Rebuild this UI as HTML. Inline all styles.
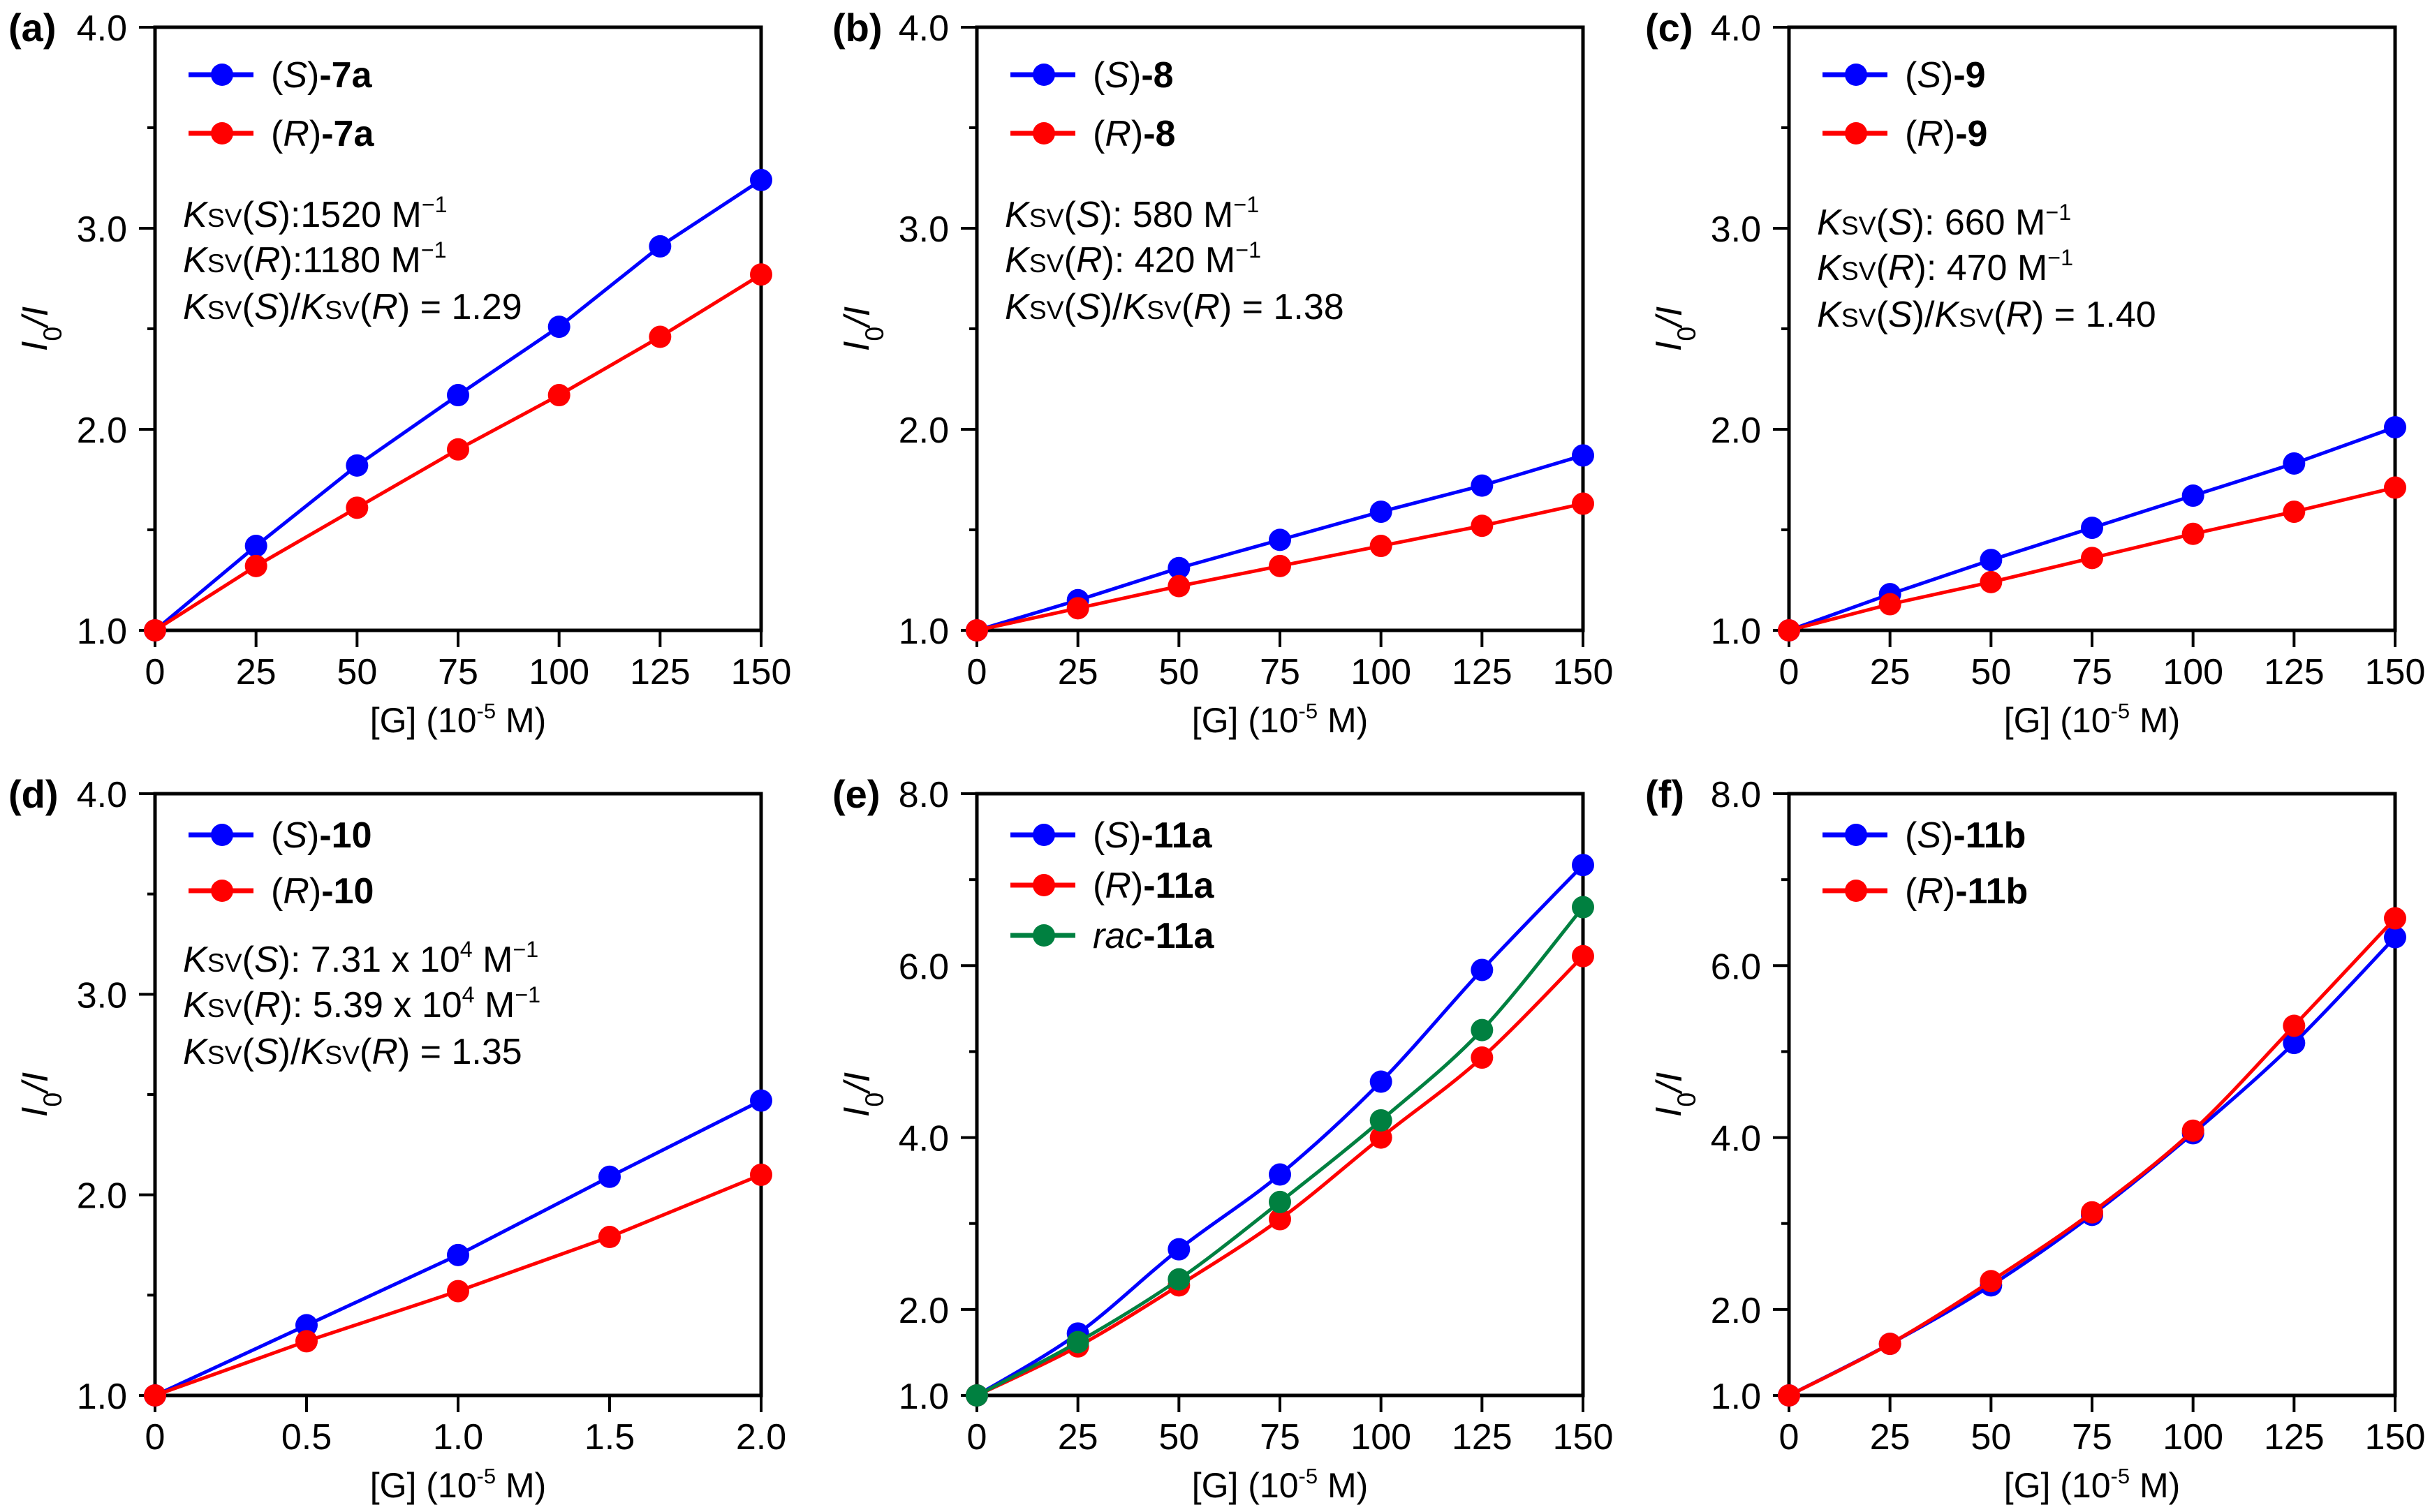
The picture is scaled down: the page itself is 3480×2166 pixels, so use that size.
<!DOCTYPE html>
<html><head><meta charset="utf-8"><style>
html,body{margin:0;padding:0;background:#fff;}
svg{display:block;font-family:"Liberation Sans",Arial,sans-serif;}
</style></head><body>
<svg id="fig" xmlns="http://www.w3.org/2000/svg" width="3480" height="2166" viewBox="0 0 3480 2166"></svg>
<script>
const gX = [0,25,50,75,100,125,150];
const dX = [0,0.5,1.0,1.5,2.0];
const xTicksG = ["0","25","50","75","100","125","150"];
const xTicksD = ["0","0.5","1.0","1.5","2.0"];
const yTicks4 = [1,2,3,4];
const yMinor4 = [1.5,2.5,3.5];
const yTicks8 = [1,2,4,6,8];
const yMinor8 = [3,5,7];
const aS = [1.0,1.42,1.82,2.17,2.51,2.91,3.24];
const aR = [1.0,1.32,1.61,1.90,2.17,2.46,2.77];
const bS = [1.0,1.15,1.31,1.45,1.59,1.72,1.87];
const bR = [1.0,1.11,1.22,1.32,1.42,1.52,1.63];
const cS = [1.0,1.18,1.35,1.51,1.67,1.83,2.01];
const cR = [1.0,1.13,1.24,1.36,1.48,1.59,1.71];
const dS = [1.0,1.35,1.70,2.09,2.47];
const dR = [1.0,1.27,1.52,1.79,2.10];
const eS = [1.0,1.72,2.70,3.57,4.65,5.95,7.17];
const eR = [1.0,1.57,2.28,3.05,4.00,4.93,6.11];
const eRac = [1.0,1.62,2.35,3.25,4.20,5.25,6.68];
const fS = [1.0,1.60,2.28,3.10,4.05,5.10,6.33];
const fR = [1.0,1.60,2.33,3.13,4.08,5.30,6.55];

const NS="http://www.w3.org/2000/svg";
const svg=document.getElementById('fig');
function el(tag,attrs,parent){const e=document.createElementNS(NS,tag);for(const k in attrs)e.setAttribute(k,attrs[k]);(parent||svg).appendChild(e);return e;}
function rich(parent,x,y,parts,size,anchor){
  const t=el('text',{x:x,y:y,'font-size':size,fill:'#000'},parent);
  if(anchor)t.setAttribute('text-anchor',anchor);
  parts.forEach(p=>{const s=el('tspan',{},t);s.textContent=p[0];
    const f=(p[1]||'').split(' ');
    if(f.includes('i'))s.setAttribute('font-style','italic');
    if(f.includes('b'))s.setAttribute('font-weight','bold');
    if(f.includes('sub'))s.setAttribute('font-size',size*0.72);
    if(f.includes('sup')){s.setAttribute('font-size',size*0.62);s.setAttribute('dy',-size*0.4);}
    if(f.includes('down'))s.setAttribute('dy',size*0.4);
  });
  return t;
}
function smoothPath(pts){
  let d='M'+pts[0][0]+','+pts[0][1];
  for(let i=0;i<pts.length-1;i++){
    const p0=pts[i-1]||pts[i],p1=pts[i],p2=pts[i+1],p3=pts[i+2]||pts[i+1];
    const c1=[p1[0]+(p2[0]-p0[0])/6,p1[1]+(p2[1]-p0[1])/6];
    const c2=[p2[0]-(p3[0]-p1[0])/6,p2[1]-(p3[1]-p1[1])/6];
    d+=' C'+c1[0]+','+c1[1]+' '+c2[0]+','+c2[1]+' '+p2[0]+','+p2[1];
  }
  return d;
}
const COL={S:'#0000ff',R:'#ff0000',rac:'#008040'};
function panel(cfg){
  const L=cfg.left,T=cfg.top,W=868,H=cfg.top<500?864:862;
  const g=el('g',{});
  
  
  const sx=v=>L+(v-cfg.xmin)/(cfg.xmax-cfg.xmin)*W;
  const sy=v=>T+H-(v-cfg.ymin)/(cfg.ymax-cfg.ymin)*H;
  const fr=el('rect',{x:L,y:T,width:W,height:H,fill:'none',stroke:'#000','stroke-width':5},g);
  
  
  cfg.yt.forEach(v=>{el('line',{x1:L-23,x2:L,y1:sy(v),y2:sy(v),stroke:'#000','stroke-width':4},g);
    const t=el('text',{x:L-40,y:sy(v)+19,'font-size':52,'text-anchor':'end'},g);t.textContent=v.toFixed(1);
    });
  cfg.ym.forEach(v=>{el('line',{x1:L-11,x2:L,y1:sy(v),y2:sy(v),stroke:'#000','stroke-width':4},g);});
  cfg.xv.forEach((v,i)=>{el('line',{x1:sx(v),x2:sx(v),y1:T+H,y2:T+H+24,stroke:'#000','stroke-width':4},g);
    const t=el('text',{x:sx(v),y:T+H+77,'font-size':52,'text-anchor':'middle'},g);t.textContent=cfg.xl[i];
    });
  const xt=rich(g,L+W/2,T+H+146,[["[G] (10"],["-5","sup"],[" M)","down"]],50,'middle');
  
  const yg=el('g',{transform:'translate('+(L-155)+','+(T+H/2)+') rotate(-90)'},g);
  const yt=rich(yg,0,0,[["I","i"],["0","sub down"],["/","i"],["I","i"]],52,'middle');
  
  yt.childNodes[2].setAttribute('dy',-20);
  const pl=rich(g,cfg.lx,T+20,[["(","b"],[cfg.id,"b"],[")","b"]],56);
  
  cfg.series.forEach(s=>{
    const pts=s.y.map((v,i)=>[sx(cfg.xv[i]),sy(v)]);
    const d=cfg.smooth?smoothPath(pts):'M'+pts.map(p=>p.join(',')).join(' L');
    const p=el('path',{d:d,fill:'none',stroke:COL[s.c],'stroke-width':5},g);
    
    pts.forEach(q=>{const c=el('circle',{cx:q[0],cy:q[1],r:16,fill:COL[s.c]},g);
      });
  });
  cfg.series.forEach((s,i)=>{
    const y=cfg.legY[i];
    const lg=el('g',{},g);
    
    el('line',{x1:L+48,x2:L+141,y1:y,y2:y,stroke:COL[s.c],'stroke-width':7},lg);
    el('circle',{cx:L+96,cy:y,r:16,fill:COL[s.c]},lg);
    const parts=s.c==='rac'?[["rac","i"],["-"+cfg.cmp,"b"]]:[["("],[s.c,"i"],[")"],["-"+cfg.cmp,"b"]];
    rich(lg,L+166,y+18,parts,52);
  });
  if(cfg.k){
    const ag=el('g',{},g);
    
    const b=cfg.annY;
    rich(ag,L+40,b,[["K","i"],["SV","sub"],["("],["S","i"],["):"+cfg.k[0]],...cfg.k[1],["−1","sup"]],52);
    rich(ag,L+40,b+65,[["K","i"],["SV","sub"],["("],["R","i"],["):"+cfg.k[2]],...cfg.k[3],["−1","sup"]],52);
    rich(ag,L+40,b+132,[["K","i"],["SV","sub"],["("],["S","i"],[")/"],["K","i"],["SV","sub"],["("],["R","i"],[") = "+cfg.k[4]]],52);
  }
  return g;
}
const R1=39,R2=1137;
const plainM=[[" M"]];
const expM=[["4","sup"],[" M","down"]];
panel({id:'a',left:222,top:R1,lx:12,xmin:0,xmax:150,ymin:1,ymax:4,xv:gX,xl:xTicksG,yt:yTicks4,ym:yMinor4,cmp:'7a',
  series:[{c:'S',y:aS},{c:'R',y:aR}],legY:[107,191],annY:325,k:['1520',plainM,'1180',plainM,'1.29']});
panel({id:'b',left:1399,top:R1,lx:1192,xmin:0,xmax:150,ymin:1,ymax:4,xv:gX,xl:xTicksG,yt:yTicks4,ym:yMinor4,cmp:'8',
  series:[{c:'S',y:bS},{c:'R',y:bR}],legY:[107,191],annY:325,k:[' 580',plainM,' 420',plainM,'1.38']});
panel({id:'c',left:2562,top:R1,lx:2356,xmin:0,xmax:150,ymin:1,ymax:4,xv:gX,xl:xTicksG,yt:yTicks4,ym:yMinor4,cmp:'9',
  series:[{c:'S',y:cS},{c:'R',y:cR}],legY:[107,191],annY:336,k:[' 660',plainM,' 470',plainM,'1.40']});
panel({id:'d',left:222,top:R2,lx:12,xmin:0,xmax:2,ymin:1,ymax:4,xv:dX,xl:xTicksD,yt:yTicks4,ym:yMinor4,cmp:'10',
  series:[{c:'S',y:dS},{c:'R',y:dR}],legY:[1196,1276],annY:1392,k:[' 7.31 x 10',expM,' 5.39 x 10',expM,'1.35']});
panel({id:'e',left:1399,top:R2,lx:1192,xmin:0,xmax:150,ymin:1,ymax:8,xv:gX,xl:xTicksG,yt:yTicks8,ym:yMinor8,cmp:'11a',smooth:true,
  series:[{c:'S',y:eS},{c:'R',y:eR},{c:'rac',y:eRac}],legY:[1196,1268,1340]});
panel({id:'f',left:2562,top:R2,lx:2356,xmin:0,xmax:150,ymin:1,ymax:8,xv:gX,xl:xTicksG,yt:yTicks8,ym:yMinor8,cmp:'11b',smooth:true,
  series:[{c:'S',y:fS},{c:'R',y:fR}],legY:[1196,1276]});
</script>
</body></html>
